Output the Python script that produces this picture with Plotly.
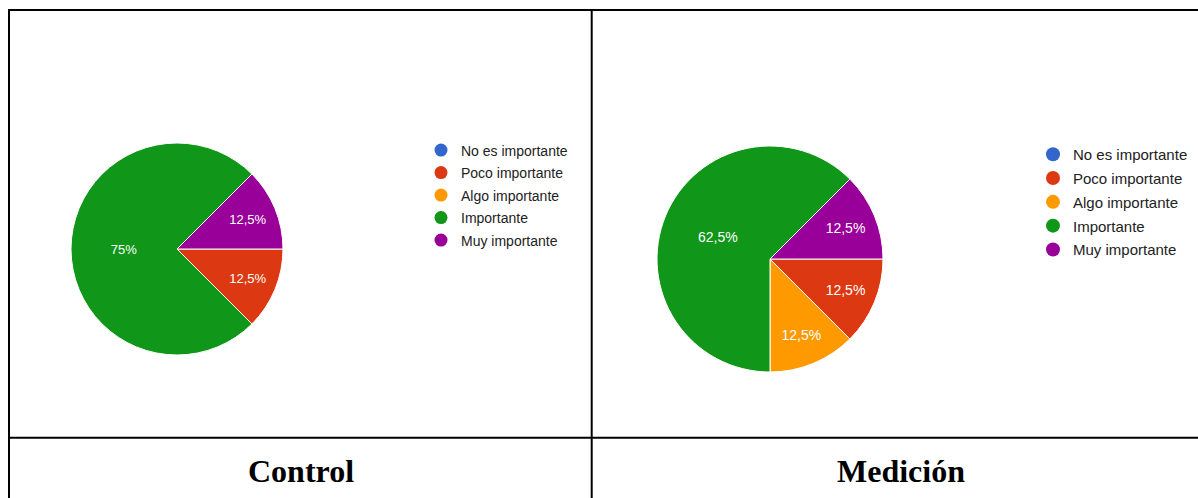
import plotly.graph_objects as go

# Response categories and colours (shared by both panels)
categories = ["No es importante", "Poco importante", "Algo importante", "Importante", "Muy importante"]
colors = ["#3366cc", "#dc3912", "#ff9900", "#109618", "#990099"]

# Answer counts per group
control_counts = [0, 1, 0, 6, 1]
medicion_counts = [0, 1, 1, 5, 1]

panel_titles = ["Control", "Medición"]

W, H = 1198, 498


def pct_labels(counts):
    total = sum(counts)
    out = []
    for c in counts:
        p = c / total * 100
        s = f"{p:.1f}".rstrip("0").rstrip(".").replace(".", ",")
        out.append(s + "%" if c > 0 else "")
    return out


def px_dom_x(a, b):
    return [a / W, b / W]


def px_dom_y(top, bottom):
    return [(H - bottom) / H, (H - top) / H]


fig = go.Figure()

pies = [
    (control_counts, px_dom_x(71, 283), px_dom_y(143, 355), 13),
    (medicion_counts, px_dom_x(657, 883), px_dom_y(146, 372), 14),
]

for counts, dx, dy, fs in pies:
    fig.add_trace(go.Pie(
        labels=categories,
        values=counts,
        text=pct_labels(counts),
        textinfo="text",
        textposition="inside",
        insidetextorientation="horizontal",
        textfont=dict(family="Liberation Sans, Arial", size=fs, color="white"),
        marker=dict(colors=colors, line=dict(color="white", width=1)),
        sort=False,
        direction="clockwise",
        rotation=90,
        domain=dict(x=dx, y=dy),
        showlegend=False,
        hoverinfo="label+value+percent",
    ))

# Legend entries: one circle per category for each panel
for legend_name, msize in [("legend", 13), ("legend2", 14)]:
    for cat, col in zip(categories, colors):
        fig.add_trace(go.Scatter(
            x=[None], y=[None], mode="markers",
            marker=dict(symbol="circle", size=msize, color=col),
            name=cat, legend=legend_name, legendgroup=legend_name + cat,
            showlegend=True, hoverinfo="skip",
        ))

line = dict(color="black", width=2)
shapes = [
    dict(type="line", xref="paper", yref="paper", x0=8 / W, x1=1, y0=1 - 10 / H, y1=1 - 10 / H, line=line),
    dict(type="line", xref="paper", yref="paper", x0=9 / W, x1=9 / W, y0=0, y1=1 - 9 / H, line=line),
    dict(type="line", xref="paper", yref="paper", x0=591.7 / W, x1=591.7 / W, y0=0, y1=1 - 9 / H, line=line),
    dict(type="line", xref="paper", yref="paper", x0=9 / W, x1=1, y0=1 - 437.7 / H, y1=1 - 437.7 / H, line=line),
]

annotations = [
    dict(text=f"<b>{panel_titles[0]}</b>", x=300.5 / W, y=1 - 471 / H, xref="paper", yref="paper",
         showarrow=False, xanchor="center", yanchor="middle",
         font=dict(family="Liberation Serif, Times New Roman", size=32, color="black")),
    dict(text=f"<b>{panel_titles[1]}</b>", x=901 / W, y=1 - 471 / H, xref="paper", yref="paper",
         showarrow=False, xanchor="center", yanchor="middle",
         font=dict(family="Liberation Serif, Times New Roman", size=32, color="black")),
]

legend_common = dict(
    bgcolor="rgba(0,0,0,0)", borderwidth=0, traceorder="grouped",
    xanchor="left", yanchor="top", itemclick=False, itemdoubleclick=False,
)

fig.update_layout(
    width=W, height=H,
    margin=dict(l=0, r=0, t=0, b=0),
    paper_bgcolor="white", plot_bgcolor="white",
    xaxis=dict(visible=False), yaxis=dict(visible=False),
    shapes=shapes, annotations=annotations,
    legend=dict(**legend_common, x=421 / W, y=1 - 134.5 / H, tracegroupgap=1.3,
                font=dict(family="Liberation Sans, Arial", size=14, color="#222222")),
    legend2=dict(**legend_common, x=1033 / W, y=1 - 138 / H, tracegroupgap=1.3,
                 font=dict(family="Liberation Sans, Arial", size=15, color="#222222")),
)

fig.write_html("out.html")
